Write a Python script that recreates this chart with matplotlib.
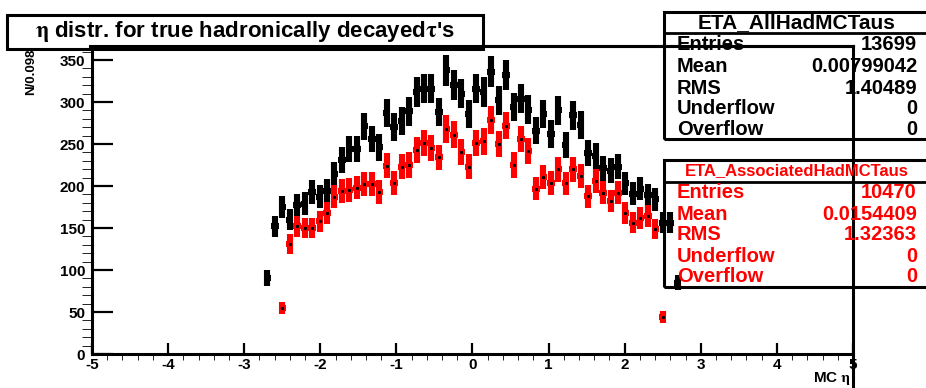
import numpy as np
import matplotlib
matplotlib.use('Agg')
from matplotlib import pyplot as plt
from matplotlib.patches import Rectangle
from matplotlib.lines import Line2D

plt.rcParams['font.family'] = ['Liberation Sans', 'DejaVu Sans']
plt.rcParams['font.weight'] = 'bold'
plt.rcParams['mathtext.fontset'] = 'stix'
plt.rcParams['axes.unicode_minus'] = False

# histogram binning: 102 bins in [-5, 5]
n_bins = 102
eta_min, eta_max = -5.0, 5.0

# all hadronic MC taus (black), first filled bin index 23
all_first_bin = 23
all_counts = [90, 152, 175, 160, 177, 179, 193, 187, 194, 214,
              231, 244, 244, 271, 256, 246, 287, 270, 277, 289,
              312, 316, 316, 288, 338, 320, 310, 286, 316, 312,
              336, 302, 332, 294, 304, 291, 266, 286, 262, 290,
              249, 284, 273, 239, 236, 221, 218, 223, 203, 191,
              197, 189, 184, 156, 156, 85]

# associated hadronic MC taus (red), first filled bin index 25
assoc_first_bin = 25
assoc_counts = [55, 131, 152, 150, 150, 158, 168, 187, 194, 195,
                198, 202, 202, 193, 224, 204, 223, 225, 243, 251,
                245, 234, 268, 261, 241, 223, 251,
                253, 279, 250, 272, 225, 256, 242, 197, 211, 204,
                220, 203, 220, 212, 188, 206, 192, 182, 192, 168,
                156, 162, 164, 149, 44]

stats_all = [('Entries', '13699'), ('Mean', '0.00799042'), ('RMS', '1.40489'),
             ('Underflow', '0'), ('Overflow', '0')]
stats_assoc = [('Entries', '10470'), ('Mean', '0.0154409'), ('RMS', '1.32363'),
               ('Underflow', '0'), ('Overflow', '0')]

W, H = 926, 388
fig = plt.figure(figsize=(W / 100, H / 100), dpi=100)
ax = fig.add_axes([92 / W, (H - 354) / H, (853 - 92) / W, (354 - 46) / H])

bw = (eta_max - eta_min) / n_bins
def centers(first, n):
    k = np.arange(first, first + n)
    return eta_min + (k + 0.5) * bw

xa = centers(all_first_bin, len(all_counts))
ya = np.array(all_counts, float)
xr = centers(assoc_first_bin, len(assoc_counts))
yr = np.array(assoc_counts, float)

ax.errorbar(xa, ya, yerr=np.sqrt(ya), xerr=bw / 2, fmt='none', ecolor='black',
            elinewidth=4.4, capsize=0, zorder=3)
ax.errorbar(xr, yr, yerr=np.sqrt(yr), xerr=bw / 2, fmt='none', ecolor='#ff0000',
            elinewidth=4.4, capsize=0, zorder=4)
ax.plot(xr, yr, 's', color='black', markersize=1.2, zorder=5)

ax.set_xlim(eta_min, eta_max)
ax.set_ylim(0, 308 / 0.84)
ax.set_xticks(np.arange(-5, 6, 1))
ax.set_xticks(np.arange(-5, 5.01, 0.2), minor=True)
ax.set_yticks(np.arange(0, 351, 50))
ax.set_yticks(np.arange(0, 361, 10), minor=True)
ax.tick_params(direction='in', width=1.6, labelsize=11)
ax.tick_params(axis='x', which='major', length=8, top=False, pad=3)
ax.tick_params(axis='x', which='minor', length=4, top=False)
ax.tick_params(axis='y', which='major', length=15, right=False, pad=5)
ax.tick_params(axis='y', which='minor', length=7.5, right=False)
for lab in ax.get_xticklabels() + ax.get_yticklabels():
    lab.set_fontweight('bold')
for s in ax.spines.values():
    s.set_linewidth(2.2)
ax.spines['right'].set_visible(False)

# right frame line running to the bottom of the canvas
fig.add_artist(Line2D([853 / W, 853 / W], [1 - 46 / H, 0], color='black', lw=2.2))

fig.text(851 / W, 1 / H, r'MC $\mathrm{\eta}$', ha='right', va='bottom', fontsize=11)
fig.text(31 / W, 1 - 49 / H, 'N/0.098', rotation=90, ha='center', va='top', fontsize=9.5)

# title box
fig.add_artist(Rectangle((7 / W, 1 - 49 / H), (483 - 7) / W, 34 / H, transform=fig.transFigure,
                         facecolor='white', edgecolor='black', lw=2.2, zorder=1))
fig.text(245 / W, 1 - 32 / H, r"$\mathrm{\eta}$ distr. for true hadronically decayed$\mathrm{\tau}$'s",
         ha='center', va='center', fontsize=16, zorder=2)
# top frame line is drawn across the title box
fig.add_artist(Line2D([90 / W, 853 / W], [1 - 46 / H, 1 - 46 / H], color='black', lw=2.2, zorder=3))

def stat_box(top, sep, bottom, title, rows, color, tsize, rsize, rows_y):
    fig.add_artist(Rectangle((664 / W, 1 - bottom / H), (940 - 664) / W, (bottom - top) / H,
                             transform=fig.transFigure, facecolor='none', edgecolor='black',
                             lw=2.2, zorder=6))
    fig.add_artist(Line2D([664 / W, 1], [1 - sep / H, 1 - sep / H], color='black', lw=2.0, zorder=6))
    fig.text(797 / W, 1 - (top + sep) / 2 / H, title, ha='center', va='center',
             fontsize=tsize, color=color, zorder=7)
    for (name, val), yy in zip(rows, rows_y):
        fig.text(677 / W, 1 - yy / H, name, ha='left', va='center', fontsize=rsize,
                 color=color, zorder=7)
        fig.text(917 / W, 1 - yy / H, val, ha='right', va='center', fontsize=rsize,
                 color=color, zorder=7)

stat_box(12, 33, 139, 'ETA_AllHadMCTaus', stats_all, 'black', 15, 14.5,
         [45, 66, 88, 109, 130])
stat_box(160, 182, 287, 'ETA_AssociatedHadMCTaus', stats_assoc, '#ff0000', 12, 14.5,
         [193, 214, 235, 256, 277])

fig.savefig('out.png', dpi=100)
